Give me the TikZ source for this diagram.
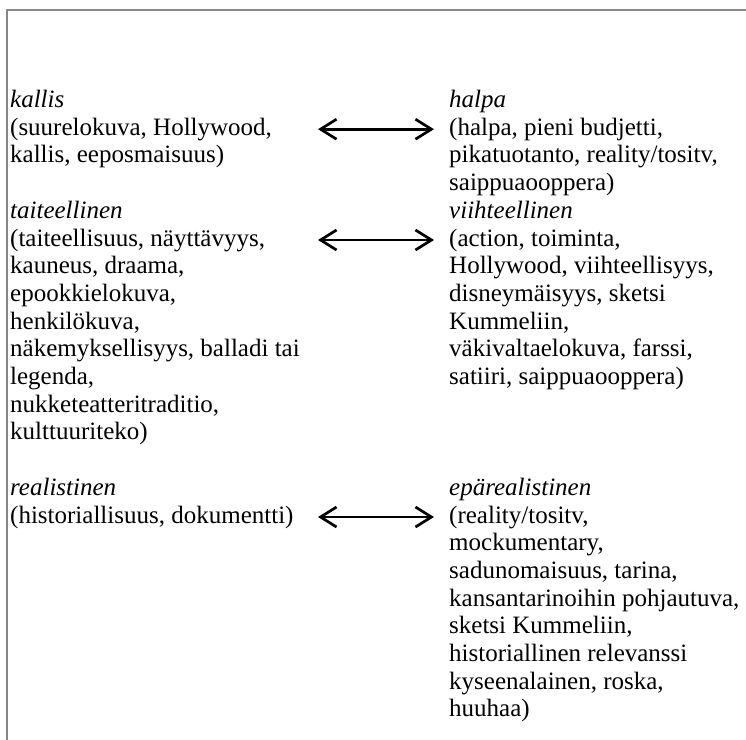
\documentclass[tikz,border=0pt]{standalone}
\usepackage{fontspec}
\setmainfont{Liberation Serif}
\usetikzlibrary{arrows.meta}
\begin{document}
\begin{tikzpicture}[x=1bp,y=-1bp,
  blk/.style={anchor=base west, align=left, inner sep=0pt, font=\fontsize{25bp}{27.7bp}\selectfont},
  dbl/.style={{Straight Barb[length=16bp,width=20bp]}-{Straight Barb[length=16bp,width=20bp]}, line width=2.7bp},
  frameline/.style={draw=black!47, line width=1.6bp}]
\useasboundingbox (0,0) rectangle (746,740);
\draw[frameline] (6.7,740) -- (6.7,9.8) -- (746,9.8);
% anchor base = baseline of the last line of each block
\node[blk] (L1) at (10,162.9) {\textit{kallis}\\(suurelokuva, Hollywood,\\kallis, eeposmaisuus)};
\node[blk] (R1) at (449,190.6) {\textit{halpa}\\(halpa, pieni budjetti,\\pikatuotanto, reality/tositv,\\saippuaooppera)};
\node[blk] (L2) at (10,439.9) {\textit{taiteellinen}\\(taiteellisuus, näyttävyys,\\kauneus, draama,\\epookkielokuva,\\henkilökuva,\\näkemyksellisyys, balladi tai\\legenda,\\nukketeatteritraditio,\\kulttuuriteko)};
\node[blk] (R2) at (449,384.5) {\textit{viihteellinen}\\(action, toiminta,\\Hollywood, viihteellisyys,\\disneymäisyys, sketsi\\Kummeliin,\\väkivaltaelokuva, farssi,\\satiiri, saippuaooppera)};
\node[blk] (L3) at (10,523) {\textit{realistinen}\\(historiallisuus, dokumentti)};
\node[blk] (R3) at (449,716.9) {\textit{epärealistinen}\\(reality/tositv,\\mockumentary,\\sadunomaisuus, tarina,\\kansantarinoihin pohjautuva,\\sketsi Kummeliin,\\historiallinen relevanssi\\kyseenalainen, roska,\\huuhaa)};
\coordinate (a1l) at (318,129.2);
\coordinate (a1r) at (434,129.2);
\coordinate (a2l) at (318,240);
\coordinate (a2r) at (434,240);
\coordinate (a3l) at (318,517);
\coordinate (a3r) at (434,517);
\draw[dbl] (a1l) -- (a1r);
\draw[dbl] (a2l) -- (a2r);
\draw[dbl] (a3l) -- (a3r);
\end{tikzpicture}
\end{document}
